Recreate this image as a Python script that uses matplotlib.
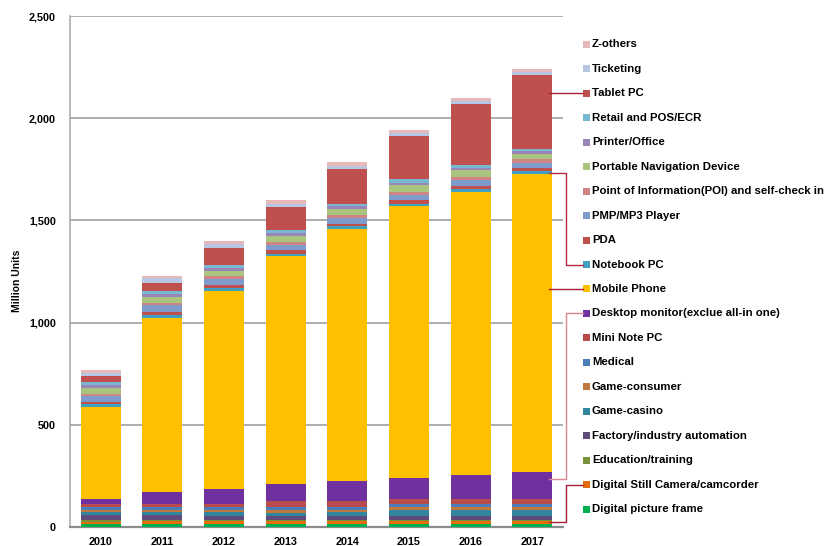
import numpy as np
import matplotlib
matplotlib.use('Agg')
import matplotlib.pyplot as plt
from matplotlib.patches import Rectangle
from matplotlib.lines import Line2D
from matplotlib.ticker import FuncFormatter

plt.rcParams['font.family'] = ['Liberation Sans', 'DejaVu Sans']
plt.rcParams['font.weight'] = 'bold'

years = ['2010', '2011', '2012', '2013', '2014', '2015', '2016', '2017']

# million units, stacked bottom -> top
digital_picture_frame = [13, 13, 15, 15, 15, 15, 15, 15]
digital_still_camera = [13, 16, 15, 15, 15, 15, 15, 15]
education_training = [10, 7, 5, 5, 5, 5, 5, 5]
factory_automation = [21, 21, 20, 18, 18, 18, 18, 18]
game_casino = [16, 15, 16, 16, 18, 29, 29, 29]
game_consumer = [8, 10, 11, 13, 13, 18, 18, 18]
medical = [18, 18, 16, 16, 15, 11, 11, 11]
mini_note_pc = [13, 13, 15, 28, 28, 28, 28, 28]
desktop_monitor = [26, 59, 72, 86, 98, 103, 117, 130]
mobile_phone = [449, 852, 970, 1113, 1231, 1329, 1382, 1456]
notebook_pc = [17, 13, 13, 13, 15, 11, 15, 16]
pda = [9, 15, 18, 15, 11, 18, 15, 13]
pmp_mp3 = [29, 33, 29, 26, 28, 26, 28, 27]
poi_self_check = [10, 13, 13, 16, 15, 13, 16, 20]
portable_navigation = [29, 29, 26, 28, 31, 33, 33, 24]
printer_office = [15, 15, 15, 13, 13, 13, 13, 13]
retail_pos = [11, 13, 13, 18, 11, 16, 13, 13]
tablet_pc = [33, 41, 85, 112, 173, 212, 300, 360]
ticketing = [15, 20, 16, 13, 13, 13, 13, 15]
z_others = [13, 13, 16, 20, 18, 16, 13, 16]

series_names = ['Digital picture frame', 'Digital Still Camera/camcorder',
                'Education/training', 'Factory/industry automation',
                'Game-casino', 'Game-consumer', 'Medical', 'Mini Note PC',
                'Desktop monitor(exclue all-in one)', 'Mobile Phone',
                'Notebook PC', 'PDA', 'PMP/MP3 Player',
                'Point of Information(POI) and self-check in',
                'Portable Navigation Device', 'Printer/Office',
                'Retail and POS/ECR', 'Tablet PC', 'Ticketing', 'Z-others']
series_values = [digital_picture_frame, digital_still_camera, education_training,
                 factory_automation, game_casino, game_consumer, medical,
                 mini_note_pc, desktop_monitor, mobile_phone, notebook_pc, pda,
                 pmp_mp3, poi_self_check, portable_navigation, printer_office,
                 retail_pos, tablet_pc, ticketing, z_others]
colors = ['#00b050', '#e46c0a', '#77933c', '#604a7b', '#31859c', '#c0783c',
          '#4a7ebb', '#b84c4a', '#7030a0', '#ffc000', '#3fa0bf', '#c0504d',
          '#7f9bcb', '#d08585', '#a9c47f', '#9a85b8', '#77b9d3', '#c0504d',
          '#b7c7e3', '#e6b9b8']

W, H = 840, 546
fig = plt.figure(figsize=(W / 100, H / 100), dpi=100)
ax = fig.add_axes([70 / W, 1 - 527 / H, (563 - 70) / W, (527 - 16) / H])

x = np.arange(len(years))
bottom = np.zeros(len(years))
bottoms = []
for vals, col in zip(series_values, colors):
    vals = np.array(vals, dtype=float)
    ax.bar(x, vals, 0.65, bottom=bottom, color=col, linewidth=0, zorder=3)
    bottoms.append(bottom.copy())
    bottom = bottom + vals

ax.set_xlim(-0.5, 7.5)
ax.set_ylim(0, 2500)
ax.set_yticks(np.arange(0, 2501, 500))
ax.yaxis.set_major_formatter(FuncFormatter(lambda v, p: '{:,.0f}'.format(v)))
ax.set_xticks(x)
ax.set_xticklabels(years)
ax.tick_params(axis='both', length=0, labelsize=7.8)
ax.tick_params(axis='y', pad=10)
ax.tick_params(axis='x', pad=7)
ax.grid(axis='y', color='#a0a0a0', linewidth=1.2, zorder=0)
for s in ['top', 'right']:
    ax.spines[s].set_visible(False)
ax.spines['left'].set_color('#a6a6a6')
ax.spines['left'].set_linewidth(1.1)
ax.spines['bottom'].set_color('#8c8c8c')
ax.spines['bottom'].set_linewidth(1.6)
fig.text(17 / W, 1 - 281 / H, 'Million Units', rotation=90, fontsize=7.5,
         ha='center', va='center')

# legend, drawn by hand so rows line up like the original
def legend_y(i):
    return 509 - 24.45 * i

for i, (name, col) in enumerate(zip(series_names, colors)):
    y = legend_y(i)
    fig.add_artist(Rectangle((583 / W, 1 - (y + 3.5) / H), 7 / W, 7 / H,
                             facecolor=col, edgecolor='none',
                             transform=fig.transFigure))
    fig.text(592 / W, 1 - y / H, name, fontsize=8.2, ha='left', va='center')

# leader lines from the 2017 bar to the legend
def data_to_px(xd, yd):
    dx, dy = ax.transData.transform((xd, yd))
    return dx, H - dy

def draw_leader(points, col):
    xs = [p[0] / W for p in points]
    ys = [1 - p[1] / H for p in points]
    fig.add_artist(Line2D(xs, ys, color=col, linewidth=1.0,
                          transform=fig.transFigure, zorder=5))

last = len(years) - 1
x_start = last + 0.27
dark = '#a51d36'
pink = '#d98894'

for idx in [17, 9]:  # Tablet PC, Mobile Phone: straight lines
    sx, _ = data_to_px(x_start, 0)
    draw_leader([(sx, legend_y(idx)), (583, legend_y(idx))], dark)

for idx, frac, col in [(10, 0.5, '#b5263f'), (8, 0.75, pink), (1, 0.5, dark)]:
    yd = bottoms[idx][last] + frac * series_values[idx][last]
    sx, sy = data_to_px(x_start, yd)
    draw_leader([(sx, sy), (566, sy), (566, legend_y(idx)),
                 (583, legend_y(idx))], col)

fig.savefig('out.png', dpi=100)
